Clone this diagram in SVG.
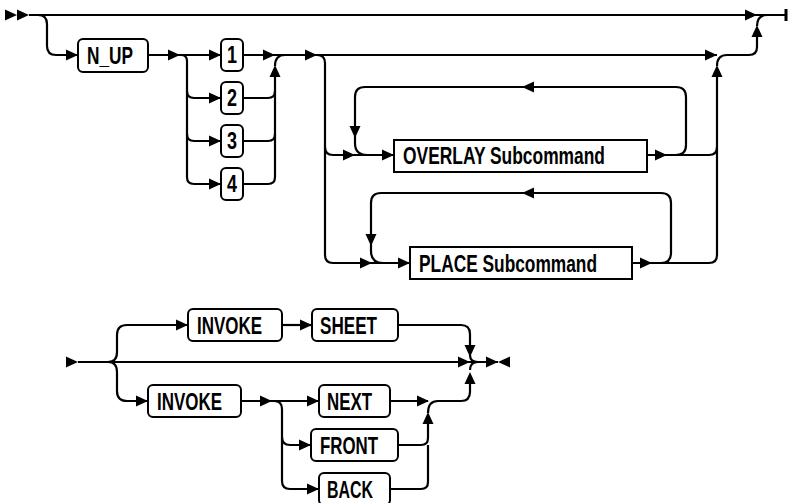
<svg xmlns="http://www.w3.org/2000/svg" xmlns:xlink="http://www.w3.org/1999/xlink" width="789" height="503" viewBox="0 0 789 503">
<style>
.ln{fill:none;stroke:#000;stroke-width:2.2}
.bx{fill:#fff;stroke:#000;stroke-width:2}
.tx{font-family:"Liberation Sans Narrow","Liberation Sans",Arial,sans-serif;font-weight:bold;font-size:23px;fill:#000}
.ah{fill:#000}
</style>
<defs>
<path id="ar" class="ah" d="M-12,-5.5 L0,0 L-12,5.5 Z"/>
</defs>
<rect width="789" height="503" fill="#fff"/>
<g id="connectors">
<path class="ln" d="M29,15 H785"/>
<path class="ln" d="M786,9 V21" style="stroke-width:3"/>
<path class="ln" d="M38,15 Q47,15 47,24 V46 Q47,55 56,55 H78"/>
<path class="ln" d="M148,55 H221 M243,55 H717"/>
<path class="ln" d="M181,55 Q187,55 187,61 V177 Q187,184 194,184 H221"/>
<path class="ln" d="M187,91 Q187,98 194,98 H221"/>
<path class="ln" d="M187,134 Q187,141 194,141 H221"/>
<path class="ln" d="M243,98 H268 Q275,98 275,91"/>
<path class="ln" d="M243,141 H268 Q275,141 275,134"/>
<path class="ln" d="M243,184 H268 Q275,184 275,177 V72"/>
<path class="ln" d="M275,66 Q275,55 285,55"/>
<path class="ln" d="M317,55 Q325,55 325,63 V255 Q325,263 333,263 H410"/>
<path class="ln" d="M325,147 Q325,155 333,155 H394"/>
<path class="ln" d="M647,155 H676 Q686,155 686,145 V97 Q686,87 676,87 H365 Q355,87 355,97 V143 Q355,155 367,155"/>
<path class="ln" d="M647,155 H709 Q717,155 717,147"/>
<path class="ln" d="M632,263 H661 Q671,263 671,253 V203 Q671,193 661,193 H381 Q371,193 371,203 V251 Q371,263 383,263"/>
<path class="ln" d="M632,263 H709 Q717,263 717,255 V72"/>
<path class="ln" d="M717,66 Q717,55 727,55 H749 Q757,55 757,47 V32"/>
<path class="ln" d="M757,26 Q757,15 767,15"/>
<use href="#ar" transform="translate(17,15)"/>
<use href="#ar" transform="translate(29,15)"/>
<use href="#ar" transform="translate(78,55)"/>
<use href="#ar" transform="translate(180,55)"/>
<use href="#ar" transform="translate(221,55)"/>
<use href="#ar" transform="translate(221,98)"/>
<use href="#ar" transform="translate(221,141)"/>
<use href="#ar" transform="translate(221,184)"/>
<use href="#ar" transform="translate(275,55)"/>
<use href="#ar" transform="translate(275,65) rotate(-90)"/>
<use href="#ar" transform="translate(317,55)"/>
<use href="#ar" transform="translate(355,155)"/>
<use href="#ar" transform="translate(394,155)"/>
<use href="#ar" transform="translate(355,138) rotate(90)"/>
<use href="#ar" transform="translate(522,87) rotate(180)"/>
<use href="#ar" transform="translate(667,155)"/>
<use href="#ar" transform="translate(372,263)"/>
<use href="#ar" transform="translate(410,263)"/>
<use href="#ar" transform="translate(371,246) rotate(90)"/>
<use href="#ar" transform="translate(522,193) rotate(180)"/>
<use href="#ar" transform="translate(652,263)"/>
<use href="#ar" transform="translate(717,55)"/>
<use href="#ar" transform="translate(717,65) rotate(-90)"/>
<use href="#ar" transform="translate(757,25) rotate(-90)"/>
<use href="#ar" transform="translate(757,15)"/>

<path class="ln" d="M78,362 H498"/>
<path class="ln" d="M108,362 Q117,362 117,352 V335 Q117,325 127,325 H188"/>
<path class="ln" d="M108,362 Q117,362 117,372 V391 Q117,401 127,401 H148"/>
<path class="ln" d="M282,325 H312"/>
<path class="ln" d="M398,325 H461 Q470,325 470,334 V350"/>
<path class="ln" d="M470,355 Q470,362 478,362"/>
<path class="ln" d="M241,401 H319"/>
<path class="ln" d="M274,401 Q282,401 282,409 V481 Q282,489 290,489 H319"/>
<path class="ln" d="M282,437 Q282,445 290,445 H311"/>
<path class="ln" d="M390,401 H428"/>
<path class="ln" d="M398,445 H421 Q428,445 428,438 V424"/>
<path class="ln" d="M390,489 H421 Q428,489 428,482 V445"/>
<path class="ln" d="M428,413 Q428,401 438,401 H461 Q470,401 470,392 V382"/>
<path class="ln" d="M470,370 Q470,362 478,362"/>
<use href="#ar" transform="translate(78,362)"/>
<use href="#ar" transform="translate(188,325)"/>
<use href="#ar" transform="translate(148,401)"/>
<use href="#ar" transform="translate(312,325)"/>
<use href="#ar" transform="translate(470,357) rotate(90)"/>
<use href="#ar" transform="translate(470,362)"/>
<use href="#ar" transform="translate(470,372) rotate(-90)"/>
<use href="#ar" transform="translate(272,401)"/>
<use href="#ar" transform="translate(319,401)"/>
<use href="#ar" transform="translate(311,445)"/>
<use href="#ar" transform="translate(319,489)"/>
<use href="#ar" transform="translate(429,401)"/>
<use href="#ar" transform="translate(428,412) rotate(-90)"/>
<use href="#ar" transform="translate(498,362)"/>
<use href="#ar" transform="translate(498,362) rotate(180)"/>
</g>
<g id="n_up"><rect class="bx" x="78" y="39" width="70" height="33" rx="5"/><text class="tx" x="87" y="63.5" textLength="46" lengthAdjust="spacingAndGlyphs">N_UP</text></g>
<g id="opt1"><rect class="bx" x="221" y="39" width="22" height="32" rx="5"/><text class="tx" x="227" y="63" textLength="10" lengthAdjust="spacingAndGlyphs">1</text></g>
<g id="opt2"><rect class="bx" x="221" y="82" width="22" height="32" rx="5"/><text class="tx" x="227" y="106" textLength="10" lengthAdjust="spacingAndGlyphs">2</text></g>
<g id="opt3"><rect class="bx" x="221" y="125" width="22" height="32" rx="5"/><text class="tx" x="227" y="149" textLength="10" lengthAdjust="spacingAndGlyphs">3</text></g>
<g id="opt4"><rect class="bx" x="221" y="168" width="22" height="32" rx="5"/><text class="tx" x="227" y="192" textLength="10" lengthAdjust="spacingAndGlyphs">4</text></g>
<g id="overlay"><rect class="bx" x="394" y="140" width="253" height="32"/><text class="tx" x="403" y="163.5" textLength="202" lengthAdjust="spacingAndGlyphs">OVERLAY Subcommand</text></g>
<g id="place"><rect class="bx" x="410" y="247" width="222" height="32"/><text class="tx" x="419" y="271.5" textLength="178" lengthAdjust="spacingAndGlyphs">PLACE Subcommand</text></g>
<g id="invoke1"><rect class="bx" x="188" y="309" width="94" height="32" rx="5"/><text class="tx" x="197" y="333.5" textLength="65" lengthAdjust="spacingAndGlyphs">INVOKE</text></g>
<g id="sheet"><rect class="bx" x="312" y="309" width="86" height="32" rx="5"/><text class="tx" x="320" y="333.5" textLength="57" lengthAdjust="spacingAndGlyphs">SHEET</text></g>
<g id="invoke2"><rect class="bx" x="148" y="385" width="93" height="32" rx="5"/><text class="tx" x="157" y="409.5" textLength="65" lengthAdjust="spacingAndGlyphs">INVOKE</text></g>
<g id="next"><rect class="bx" x="319" y="385" width="71" height="32" rx="5"/><text class="tx" x="327" y="409.5" textLength="45" lengthAdjust="spacingAndGlyphs">NEXT</text></g>
<g id="front"><rect class="bx" x="311" y="429" width="87" height="32" rx="5"/><text class="tx" x="320" y="453.5" textLength="58" lengthAdjust="spacingAndGlyphs">FRONT</text></g>
<g id="back"><rect class="bx" x="319" y="473" width="71" height="32" rx="5"/><text class="tx" x="327" y="497.5" textLength="46" lengthAdjust="spacingAndGlyphs">BACK</text></g>
</svg>
